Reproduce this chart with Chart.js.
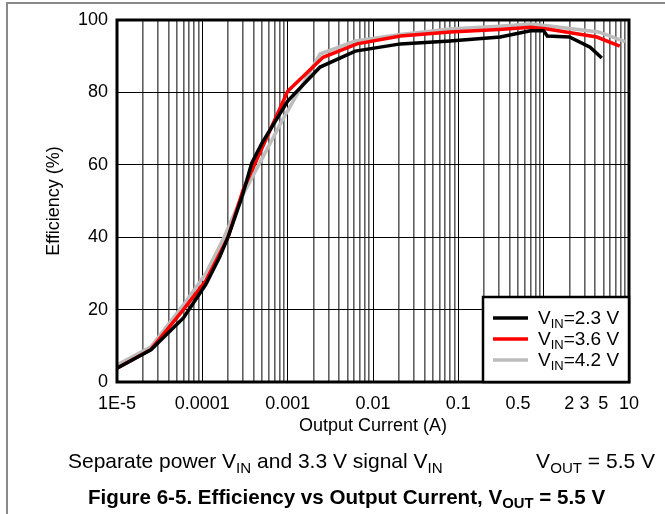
<!DOCTYPE html>
<html>
<head>
<meta charset="utf-8">
<script src="https://cdn.jsdelivr.net/npm/chart.js@4/dist/chart.umd.min.js"></script>
<style>
  html, body { margin: 0; padding: 0; background: #fff; }
  #wrap { position: relative; width: 665px; height: 514px; overflow: hidden;
          font-family: "Liberation Sans", Arial, sans-serif; color: #000; }
  #edge { position: absolute; left: 6px; top: 2px; width: 700px; height: 600px;
          border-left: 2px solid #8a8a8a; border-top: 2px solid #8a8a8a; }
  canvas { position: absolute; left: 0; top: 0; }
  .cap { position: absolute; font-size: 21px; white-space: nowrap; }
  .cap sub { font-size: 0.72em; vertical-align: -0.3em; line-height: 0; }
  #title { font-weight: bold; font-size: 20.6px; }
</style>
</head>
<body>
<div id="wrap">
  <div id="edge"></div>
  <canvas id="effChart" width="665" height="514"></canvas>
  <div class="cap" style="left:68px; top:449px;">Separate power V<sub>IN</sub> and 3.3 V signal V<sub>IN</sub></div>
  <div class="cap" style="right:10px; top:449px;">V<sub>OUT</sub> = 5.5 V</div>
  <div class="cap" id="title" style="left:88px; top:485px;">Figure 6-5. Efficiency vs Output Current, V<sub>OUT</sub> = 5.5 V</div>
</div>

<script>
// ------------------------
// Data
// ------------------------
const vinValues = ['2.3', '3.6', '4.2'];
const seriesColors = ['#000000', '#ff0000', '#bdbdbd'];

// VIN = 2.3 V
const current23 = [1e-5, 2.5e-5, 6e-5, 1.1e-4, 1.6e-4, 2e-4, 2.9e-4, 3.8e-4, 5e-4, 1e-3, 2.4e-3, 6.2e-3, 0.021, 0.08, 0.31, 0.7, 1.0, 1.1, 2.0, 3.5, 4.8];
const eff23     = [3.8, 8.9, 17.7, 27, 34.6, 40, 51, 60.5, 66, 77.6, 87, 91.4, 93.4, 94.2, 95.3, 97, 97, 95.6, 95.3, 92.5, 89.5];

// VIN = 3.6 V
const current36 = [1e-5, 2.5e-5, 6e-5, 1.1e-4, 2e-4, 3e-4, 1e-3, 2.6e-3, 6.5e-3, 0.021, 0.08, 0.3, 0.7, 1.1, 4.2, 7.8];
const eff36     = [3.8, 9, 20, 28, 40, 53, 80.3, 89.7, 93.4, 95.6, 96.7, 97.4, 98, 97.5, 95.3, 92.8];

// VIN = 4.2 V
const current42 = [1e-5, 2.5e-5, 6e-5, 1.1e-4, 1.8e-4, 2.8e-4, 8.8e-4, 2.4e-3, 6.2e-3, 0.021, 0.08, 0.3, 0.7, 1.1, 4.4, 9];
const eff42     = [4.7, 9.7, 21.3, 30, 40, 50.4, 72.6, 90.6, 94.2, 96, 97.5, 98.3, 98.9, 98.4, 96.7, 94];

const currents = [current23, current36, current42];
const effs = [eff23, eff36, eff42];

// x-axis tick labels
const xTickValues = [1e-5, 1e-4, 1e-3, 0.01, 0.1, 0.5, 2, 3, 5, 10];
const xTickLabels = ['1E-5', '0.0001', '0.001', '0.01', '0.1', '0.5', '2', '3', '5', '10'];
const yTickStep = 20;

// ------------------------
// Helpers
// ------------------------
function sameValue(a, b) {
    return Math.abs(a - b) <= Math.abs(b) * 1e-6;
}

function isDecade(v) {
    const e = Math.log10(v);
    return Math.abs(e - Math.round(e)) < 1e-6;
}

// all log grid positions 1..9 x 10^n
const gridValues = [];
for (let e = -5; e <= 0; e++) {
    for (let m = 1; m <= 9; m++) gridValues.push(m * Math.pow(10, e));
}
gridValues.push(10);

const FONT = '"Liberation Sans", Arial, sans-serif';

// frame around the plot area
const framePlugin = {
    id: 'plotFrame',
    afterDatasetsDraw(chart) {
        const { ctx, chartArea: a } = chart;
        ctx.save();
        ctx.strokeStyle = '#000';
        ctx.lineWidth = 3;
        ctx.strokeRect(a.left, a.top, a.right - a.left, a.bottom - a.top);
        ctx.restore();
    }
};

// legend with subscripts, bottom right inside the plot
const legendPlugin = {
    id: 'vinLegend',
    afterDraw(chart) {
        const { ctx, chartArea: a } = chart;
        const w = 146, h = 85;
        const x0 = a.right - w, y0 = a.bottom - h;
        ctx.save();
        ctx.fillStyle = '#fff';
        ctx.fillRect(x0, y0, w, h);
        ctx.strokeStyle = '#000';
        ctx.lineWidth = 2.5;
        ctx.strokeRect(x0, y0, w, h);
        chart.data.datasets.forEach((ds, i) => {
            const y = y0 + 21 + i * 21;
            ctx.strokeStyle = ds.borderColor;
            ctx.lineWidth = 3.5;
            ctx.beginPath();
            ctx.moveTo(x0 + 10, y);
            ctx.lineTo(x0 + 45, y);
            ctx.stroke();

            ctx.fillStyle = '#000';
            ctx.textBaseline = 'alphabetic';
            let tx = x0 + 55;
            ctx.font = '19px ' + FONT;
            ctx.fillText('V', tx, y + 6);
            tx += ctx.measureText('V').width;
            ctx.font = '13px ' + FONT;
            ctx.fillText('IN', tx, y + 10);
            tx += ctx.measureText('IN').width;
            ctx.font = '19px ' + FONT;
            ctx.fillText('=' + vinValues[i] + ' V', tx, y + 6);
        });
        ctx.restore();
    }
};

// ------------------------
// Chart
// ------------------------
const datasets = vinValues.map((v, i) => ({
    label: 'VIN=' + v + ' V',
    data: currents[i].map((c, k) => ({ x: c, y: effs[i][k] })),
    borderColor: seriesColors[i],
    backgroundColor: seriesColors[i],
    borderWidth: 3.5,
    pointRadius: 0,
    tension: 0,
    fill: false
}));

new Chart(document.getElementById('effChart'), {
    type: 'line',
    data: { datasets: datasets },
    options: {
        responsive: false,
        animation: false,
        events: [],
        layout: { padding: { top: 20, right: 36, left: 0, bottom: 0 } },
        plugins: { legend: { display: false }, tooltip: { enabled: false } },
        scales: {
            x: {
                type: 'logarithmic',
                min: 1e-5,
                max: 10,
                afterBuildTicks: scale => {
                    scale.ticks = gridValues.map(v => ({ value: v }));
                },
                afterFit: scale => { scale.height = 132; },
                border: { display: false },
                grid: {
                    drawTicks: false,
                    color: c => (c.tick && isDecade(c.tick.value)) ? '#000' : '#606060',
                    lineWidth: c => (c.tick && isDecade(c.tick.value)) ? 1 : 1.6
                },
                ticks: {
                    autoSkip: false,
                    maxRotation: 0,
                    padding: 11,
                    color: '#000',
                    font: { family: FONT, size: 18 },
                    callback: value => {
                        const k = xTickValues.findIndex(t => sameValue(value, t));
                        return k >= 0 ? xTickLabels[k] : '';
                    }
                },
                title: {
                    display: true,
                    text: 'Output Current (A)',
                    color: '#000',
                    font: { family: FONT, size: 18 },
                    padding: { top: 0, bottom: 77 }
                }
            },
            y: {
                min: 0,
                max: 100,
                afterFit: scale => { scale.width = 117; },
                border: { display: false },
                grid: { drawTicks: false, color: '#000', lineWidth: 1 },
                ticks: {
                    stepSize: yTickStep,
                    padding: 9,
                    color: '#000',
                    font: { family: FONT, size: 18 }
                },
                title: {
                    display: true,
                    text: 'Efficiency (%)',
                    color: '#000',
                    font: { family: FONT, size: 18 },
                    padding: { top: 43, bottom: 0 }
                }
            }
        }
    },
    plugins: [framePlugin, legendPlugin]
});
</script>
</body>
</html>
